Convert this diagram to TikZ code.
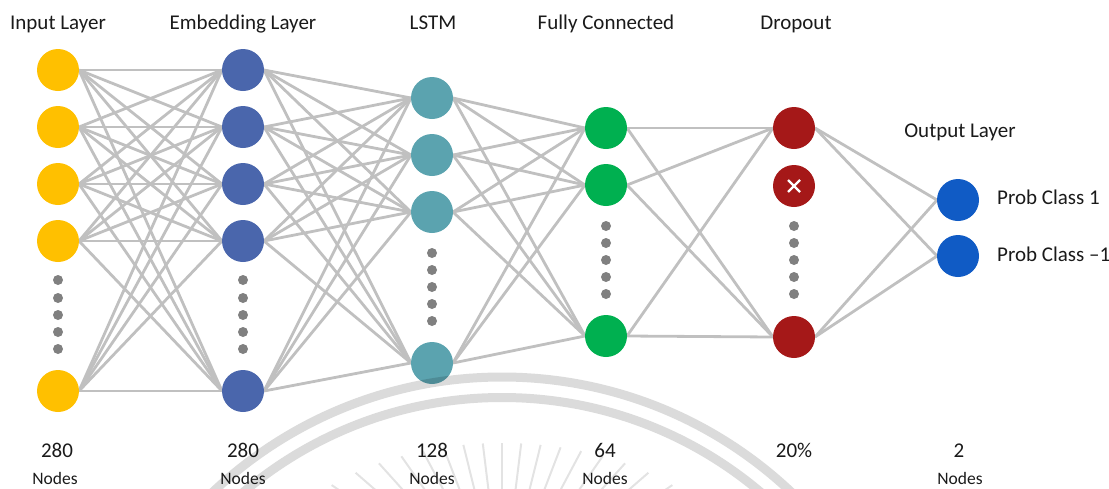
\documentclass[tikz,border=0pt]{standalone}
\usepackage{fontspec}
\setmainfont{Carlito}
\usetikzlibrary{backgrounds}

\definecolor{inputc}{HTML}{FFC000}
\definecolor{embedc}{HTML}{4A66AC}
\definecolor{lstmc}{HTML}{5BA3AF}
\definecolor{fcc}{HTML}{00B050}
\definecolor{dropc}{HTML}{A51818}
\definecolor{outc}{HTML}{105BC5}
\definecolor{linkc}{HTML}{C0C0C0}
\definecolor{dotc}{HTML}{808080}
\definecolor{textc}{HTML}{1A1A1A}

\begin{document}
\begin{tikzpicture}[x=1pt,y=-1pt,
  neuron/.style={circle, minimum size=42pt, inner sep=0pt, outer sep=0pt},
  link/.style={draw=linkc, line width=2.8pt},
  dotmark/.style={circle, fill=dotc, minimum size=10pt, inner sep=0pt},
  title/.style={font=\fontsize{21}{24}\selectfont, text=textc, anchor=base, inner sep=0pt},
  count/.style={font=\fontsize{21}{24}\selectfont, text=textc, anchor=base, inner sep=0pt},
  unit/.style={font=\fontsize{17.5}{20}\selectfont, text=textc, anchor=base, inner sep=0pt},
  ring/.style={draw=black, opacity=0.14, line width=9pt},
  sunray/.style={draw=black, opacity=0.11, line width=2pt}]

\useasboundingbox (0,0) rectangle (1109,488);

% ---- neurons ----
\foreach \i/\y in {1/70,2/127,3/184,4/241,5/391}{
  \node[neuron, fill=inputc] (in\i) at (58,\y) {};
  \node[neuron, fill=embedc] (em\i) at (243,\y) {};
}
\foreach \i/\y in {1/98,2/155,3/212,4/363}
  \node[neuron, fill=lstmc] (ls\i) at (432,\y) {};
\foreach \i/\y in {1/128,2/185,3/336}
  \node[neuron, fill=fcc] (fc\i) at (606,\y) {};
\node[neuron, fill=dropc] (dr1) at (794,128) {};
\node[neuron, fill=dropc] (drx) at (794,186) {};
\node[neuron, fill=dropc] (dr3) at (794,337) {};
\node[neuron, fill=outc] (out1) at (958,200) {};
\node[neuron, fill=outc] (out2) at (958,256) {};

% dropped unit mark
\draw[white, line width=2.4pt]
  ([shift={(-6,-6)}]drx.center) -- ([shift={(6,6)}]drx.center)
  ([shift={(-6,6)}]drx.center) -- ([shift={(6,-6)}]drx.center);

% ---- ellipsis dots ----
\foreach \k/\y in {1/280,2/298,3/315,4/332,5/349}{
  \node[dotmark] (inD\k) at (58,\y) {};
  \node[dotmark] (emD\k) at (243,\y) {};
}
\foreach \k/\y in {1/253,2/270,3/287,4/304,5/321}
  \node[dotmark] (lsD\k) at (432,\y) {};
\foreach \k/\y in {1/226,2/243,3/260,4/277,5/294}{
  \node[dotmark] (fcD\k) at (606,\y) {};
  \node[dotmark] (drD\k) at (794,\y) {};
}

% ---- connections ----
\begin{scope}[on background layer]
  \foreach \a in {1,...,5}
    \foreach \b in {1,...,5}
      \draw[link] (in\a.east) -- (em\b.west);
  \foreach \a in {1,...,5}
    \foreach \b in {1,...,4}
      \draw[link] (em\a.east) -- (ls\b.west);
  \foreach \a in {1,...,4}
    \foreach \b in {1,...,3}
      \draw[link] (ls\a.east) -- (fc\b.west);
  \foreach \a in {1,...,3}
    \foreach \b in {dr1,dr3}
      \draw[link] (fc\a.east) -- (\b.west);
  \foreach \a in {dr1,dr3}
    \foreach \b in {out1,out2}
      \draw[link] (\a.east) -- (\b.west);
\end{scope}

% ---- layer titles ----
\node[title] (tIn)  at (58,29)  {Input Layer};
\node[title] (tEm)  at (243,29) {Embedding Layer};
\node[title] (tLs)  at (433,29) {LSTM};
\node[title] (tFc)  at (606,29) {Fully Connected};
\node[title] (tDr)  at (796,29) {Dropout};
\node[title] (tOut) at (960,137) {Output Layer};
\node[title, anchor=base west] (p1) at (997,204) {Prob Class 1};
\node[title, anchor=base west] (p2) at (997,261) {Prob Class –1};

% ---- sizes ----
\node[count] (nIn) at (57,457)  {280};
\node[count] (nEm) at (243,457) {280};
\node[count] (nLs) at (432,457) {128};
\node[count] (nFc) at (605,457) {64};
\node[count] (nDr) at (794,457) {20\%};
\node[count] (nOut) at (959,457) {2};
\foreach \x/\n in {55/uIn,243/uEm,432/uLs,605/uFc,960/uOut}
  \node[unit] (\n) at (\x,484) {Nodes};

% ---- emblem in the lower middle ----
\begin{scope}
  \clip (0,0) rectangle (1109,488);
  \coordinate (wc) at (502,798);
  \draw[ring] (wc) circle[radius=421];
  \draw[ring] (wc) circle[radius=400.5];
  \coordinate (rc) at (502,600);
  \foreach \t [evaluate=\t as \r using {392.5/sqrt(2.4649*cos(\t)^2+6.25*sin(\t)^2)}]
      in {-146,-139,...,-34}
    \draw[sunray] (rc) ++(\t:{0.62*\r}) -- ++(\t:{0.38*\r});
\end{scope}
\end{tikzpicture}
\end{document}
